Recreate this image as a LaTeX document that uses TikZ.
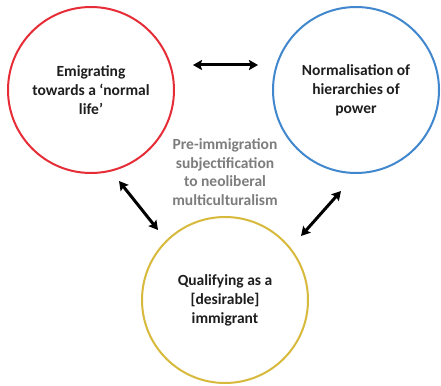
\documentclass[tikz,border=0pt]{standalone}
\usepackage{fontspec}
\setmainfont{Carlito}
\usetikzlibrary{arrows.meta}
\definecolor{cred}{RGB}{230,45,55}
\definecolor{cblue}{RGB}{65,135,205}
\definecolor{cgold}{RGB}{215,185,60}
\definecolor{ctext}{RGB}{30,30,30}
\definecolor{cgrey}{RGB}{125,125,125}
\tikzset{
  ring/.style={circle, draw=#1, line width=2pt, minimum size=166pt, inner sep=0pt,
    align=center, font=\fontsize{15.5}{19}\selectfont\bfseries, text=ctext},
  tip/.tip={Stealth[length=9pt,width=10pt,inset=1.5pt]},
  link/.style={line width=3pt, tip-tip},
  core/.style={align=center, font=\fontsize{15.5}{18.5}\selectfont\bfseries, text=cgrey}
}
\begin{document}
\begin{tikzpicture}[x=1pt,y=-1pt]
\useasboundingbox (0,0) rectangle (441,385);
\fill[white] (0,0) rectangle (441,385);
\node[ring=cred]  (life)  at (91,90)  {Emigrating\\towards a ‘normal\\life’};
\node[ring=cblue] (power) at (356,90) {Normalisation of\\hierarchies of\\power};
\node[ring=cgold] (qual)  at (225,300) {Qualifying as a\\{[desirable]}\\immigrant};
\node[core] (mid) at (225,172) {Pre-immigration\\subjectification\\to neoliberal\\multiculturalism};
\coordinate (t1) at (193,65);
\coordinate (t2) at (258,65);
\coordinate (l1) at (119,181);
\coordinate (l2) at (158,230);
\coordinate (r1) at (341,191);
\coordinate (r2) at (301,236);
\draw[link] (t1) -- (t2);
\draw[link] (l1) -- (l2);
\draw[link] (r1) -- (r2);
\end{tikzpicture}
\end{document}
